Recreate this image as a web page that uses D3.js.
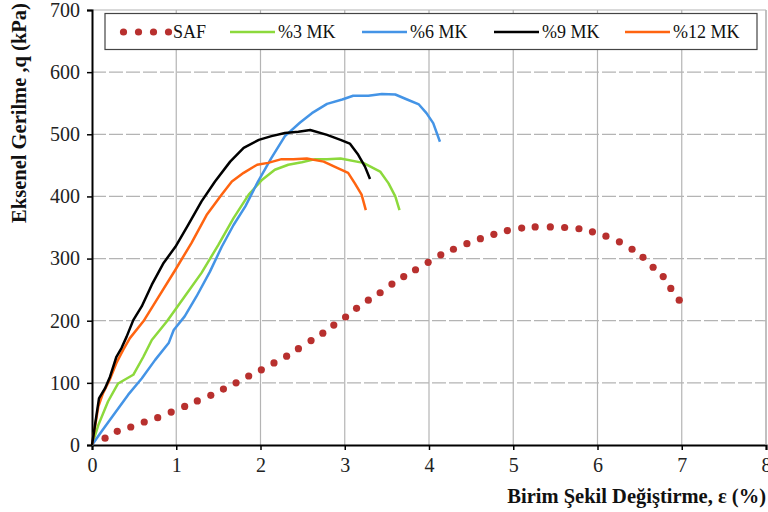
<!DOCTYPE html>
<html>
<head>
<meta charset="utf-8">
<script src="https://cdn.jsdelivr.net/npm/d3@7"></script>
<style>
  body { margin: 0; background: #fff; }
  text { font-family: "Liberation Serif", "Times New Roman", serif; }
  .tick text { font-size: 20px; fill: #222; }
  .axistitle { font-size: 20.5px; font-weight: bold; fill: #111; }
  .legendtext { font-size: 18px; fill: #111; }
</style>
</head>
<body>
<svg width="768" height="512"></svg>
<script>
// strain (%) and axial stress (kPa)
var safX = [0.155, 0.30, 0.46, 0.62, 0.78, 0.94, 1.10, 1.25, 1.41, 1.56, 1.71, 1.86, 2.01, 2.16, 2.31, 2.45, 2.60, 2.74, 2.87, 3.01, 3.14, 3.28, 3.42, 3.56, 3.70, 3.84, 3.99, 4.14, 4.29, 4.45, 4.61, 4.77, 4.93, 5.10, 5.26, 5.44, 5.61, 5.78, 5.94, 6.10, 6.26, 6.41, 6.54, 6.66, 6.78, 6.87, 6.97];
var safY = [11, 22, 29, 37, 44, 53, 62, 71, 80, 90, 100, 111, 121, 132, 143, 155, 168, 180, 193, 206, 220, 233, 245, 259, 271, 282, 294, 306, 315, 324, 332, 339, 345, 349, 351, 351, 350, 348, 343, 336, 327, 315, 302, 286, 271, 252, 233];

var mk3X = [0, 0.075, 0.19, 0.31, 0.49, 0.61, 0.71, 0.89, 1.10, 1.30, 1.50, 1.68, 1.86, 2.02, 2.17, 2.33, 2.49, 2.65, 2.79, 2.95, 3.22, 3.42, 3.52, 3.60, 3.65];
var mk3Y = [0, 32, 70, 99, 113, 142, 169, 199, 239, 277, 322, 365, 403, 427, 443, 451, 455, 460, 460, 461, 454, 440, 421, 400, 378];

var mk6X = [0, 0.115, 0.27, 0.43, 0.59, 0.75, 0.91, 0.97, 1.10, 1.24, 1.40, 1.54, 1.68, 1.82, 1.97, 2.13, 2.29, 2.47, 2.61, 2.79, 2.97, 3.10, 3.28, 3.44, 3.60, 3.74, 3.88, 3.97, 4.05, 4.13];
var mk6Y = [0, 22, 51, 81, 107, 137, 164, 185, 207, 239, 279, 319, 354, 384, 424, 462, 497, 519, 534, 549, 556, 562, 562, 565, 564, 556, 548, 534, 518, 488];

var mk9X = [0, 0.083, 0.154, 0.214, 0.29, 0.35, 0.41, 0.49, 0.59, 0.71, 0.85, 0.99, 1.14, 1.30, 1.46, 1.64, 1.80, 1.98, 2.13, 2.29, 2.45, 2.59, 2.79, 2.95, 3.06, 3.16, 3.24, 3.30];
var mk9Y = [0, 75, 91, 110, 142, 156, 174, 201, 223, 258, 293, 319, 354, 392, 424, 456, 478, 491, 497, 502, 504, 507, 499, 491, 485, 467, 448, 428];

var mk12X = [0, 0.075, 0.13, 0.21, 0.29, 0.37, 0.45, 0.61, 0.77, 0.99, 1.18, 1.36, 1.54, 1.66, 1.80, 1.96, 2.09, 2.25, 2.39, 2.55, 2.75, 2.91, 3.04, 3.12, 3.20, 3.25];
var mk12Y = [0, 62, 83, 105, 132, 153, 172, 199, 234, 282, 325, 370, 403, 424, 438, 451, 454, 460, 460, 461, 456, 446, 438, 421, 403, 378];

var seriesNames = ["SAF", "%3 MK", "%6 MK", "%9 MK", "%12 MK"];
var seriesColors = ["#b8302e", "#8cd93c", "#4494e6", "#000000", "#ff6410"];
var xTicks = [0, 1, 2, 3, 4, 5, 6, 7, 8];
var yTicks = [0, 100, 200, 300, 400, 500, 600, 700];

var plotLeft = 92, plotRight = 766, plotTop = 10, plotBottom = 445;

var svg = d3.select("svg");

var x = d3.scaleLinear().domain([0, 8]).range([plotLeft, plotRight]);
var y = d3.scaleLinear().domain([0, 700]).range([plotBottom, plotTop]);

// grid
svg.append("g")
  .selectAll("line")
  .data(xTicks.slice(1))
  .enter()
  .append("line")
    .attr("x1", function(d) { return x(d); })
    .attr("x2", function(d) { return x(d); })
    .attr("y1", plotTop)
    .attr("y2", plotBottom)
    .attr("stroke", "#b4b4b4")
    .attr("stroke-width", 1.2)
;

svg.append("g")
  .selectAll("line")
  .data(yTicks.slice(1, -1))
  .enter()
  .append("line")
    .attr("x1", plotLeft)
    .attr("x2", plotRight)
    .attr("y1", function(d) { return y(d); })
    .attr("y2", function(d) { return y(d); })
    .attr("stroke", "#b4b4b4")
    .attr("stroke-width", 1.2)
    .attr("stroke-dasharray", "14,3")
;

svg.append("line")
  .attr("x1", plotLeft).attr("x2", plotRight)
  .attr("y1", y(700)).attr("y2", y(700))
  .attr("stroke", "#b4b4b4")
  .attr("stroke-width", 1.2)
;

// axes
var xAxis = svg.append("g")
  .attr("transform", "translate(0," + plotBottom + ")")
  .call(d3.axisBottom(x).tickValues(xTicks).tickSize(5).tickPadding(8).tickFormat(d3.format("d")));
var yAxis = svg.append("g")
  .attr("transform", "translate(" + plotLeft + ",0)")
  .call(d3.axisLeft(y).tickValues(yTicks).tickSize(5).tickPadding(7).tickFormat(d3.format("d")));

[xAxis, yAxis].forEach(function(a) {
  a.attr("font-size", null).attr("font-family", null);
  a.select(".domain").attr("stroke", "#000").attr("stroke-width", 2);
  a.selectAll(".tick line").attr("stroke", "#000").attr("stroke-width", 1.5);
});

svg.append("text")
  .attr("class", "axistitle")
  .attr("x", plotRight)
  .attr("y", 503)
  .attr("text-anchor", "end")
  .text("Birim Şekil Değiştirme, ε (%)");

svg.append("text")
  .attr("class", "axistitle")
  .attr("transform", "translate(26,113) rotate(-90)")
  .attr("text-anchor", "middle")
  .text("Eksenel Gerilme ,q (kPa)");

// curves
var lineGen = d3.line()
  .x(function(d) { return x(d[0]); })
  .y(function(d) { return y(d[1]); });

var lineData = [
  [mk3X, mk3Y, 1],
  [mk6X, mk6Y, 2],
  [mk12X, mk12Y, 4],
  [mk9X, mk9Y, 3]
];

lineData.forEach(function(s) {
  var pts = s[0].map(function(v, i) { return [v, s[1][i]]; });
  svg.append("path")
    .datum(pts)
    .attr("d", lineGen)
    .attr("fill", "none")
    .attr("stroke", seriesColors[s[2]])
    .attr("stroke-width", 2.5)
    .attr("stroke-linejoin", "round");
});

svg.append("g")
  .selectAll("circle")
  .data(safX.map(function(v, i) { return [v, safY[i]]; }))
  .enter()
  .append("circle")
    .attr("cx", function(d) { return x(d[0]); })
    .attr("cy", function(d) { return y(d[1]); })
    .attr("r", 3.6)
    .attr("fill", seriesColors[0])
;

// legend
svg.append("rect")
  .attr("x", 105)
  .attr("y", 13.5)
  .attr("width", 652)
  .attr("height", 36)
  .attr("fill", "#fff")
  .attr("stroke", "#444")
  .attr("stroke-width", 1.2);

var legendY = 32;
[123.5, 138.5, 153.5, 168.5].forEach(function(cx) {
  svg.append("circle")
    .attr("cx", cx)
    .attr("cy", legendY)
    .attr("r", 3.6)
    .attr("fill", seriesColors[0]);
});

var legendStart = [null, 230, 362, 494, 625];
svg.append("text")
  .attr("class", "legendtext")
  .attr("x", 173)
  .attr("y", legendY + 6)
  .text(seriesNames[0]);

for (var i = 1; i < seriesNames.length; i++) {
  svg.append("line")
    .attr("x1", legendStart[i])
    .attr("x2", legendStart[i] + 45)
    .attr("y1", legendY)
    .attr("y2", legendY)
    .attr("stroke", seriesColors[i])
    .attr("stroke-width", 2.5);
  svg.append("text")
    .attr("class", "legendtext")
    .attr("x", legendStart[i] + 48)
    .attr("y", legendY + 6)
    .text(seriesNames[i]);
}

// right frame edge
svg.append("line")
  .attr("x1", plotRight).attr("x2", plotRight)
  .attr("y1", plotTop).attr("y2", plotBottom)
  .attr("stroke", "#b4b4b4")
  .attr("stroke-width", 1.2);
</script>
</body>
</html>
